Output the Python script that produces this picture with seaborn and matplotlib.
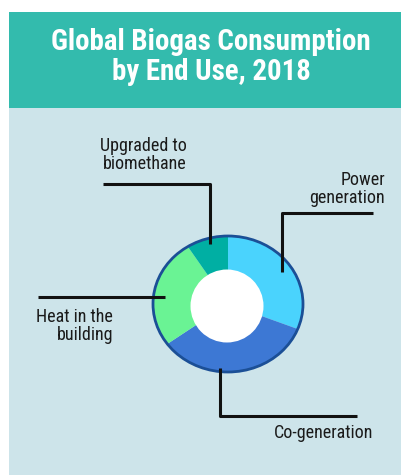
import matplotlib
matplotlib.use("Agg")
import matplotlib.pyplot as plt
from matplotlib.patches import Rectangle, Ellipse
from matplotlib.lines import Line2D
import seaborn as sns

# ---- data ----
categories = ["Power\ngeneration", "Co-generation", "Heat in the\nbuilding", "Upgraded to\nbiomethane"]
shares = [31, 34, 26, 9]
colors = ["#4AD3FD", "#3D78D4", "#6AF394", "#00AFA3"]
title = "Global Biogas Consumption\nby End Use, 2018"

sns.set_theme(style="white")
plt.rcParams['font.family'] = ['Roboto Condensed', 'DejaVu Sans']

W, H = 401, 475
fig = plt.figure(figsize=(W / 100, H / 100), dpi=100)
fig.patch.set_facecolor("white")

def px(x, y):
    """image pixel coords (y from top) -> figure fraction"""
    return x / W, 1 - y / H

# background panels
fig.add_artist(Rectangle(px(9, 108), (W - 9) / W, (108 - 12) / H, transform=fig.transFigure,
                         facecolor="#33BBAD", edgecolor="none", zorder=0))
fig.add_artist(Rectangle(px(9, 475), (W - 9) / W, (475 - 108) / H, transform=fig.transFigure,
                         facecolor="#CDE4EA", edgecolor="none", zorder=0))

fig.text(211 / W, 1 - 57 / H, title, ha="center", va="center", color="white",
         fontsize=20.8, fontweight="bold", linespacing=1.1, zorder=5)

# donut axes: outer ellipse center (228, 304), rx 75, ry 68
cx, cy, rx, ry = 228, 304, 75, 68
aw, ah = 2.5 * rx, 2.5 * ry
l, b = px(cx - aw / 2, cy + ah / 2)
ax = fig.add_axes([l, b, aw / W, ah / H])
ax.pie(shares, colors=colors, startangle=90, counterclock=False,
       wedgeprops=dict(linewidth=0))
ax.set_aspect("auto")
ax.set_xlim(-1.25, 1.25)
ax.set_ylim(-1.25, 1.25)
ax.axis("off")
ax.add_patch(Ellipse((0, 0), 2, 2, facecolor="none", edgecolor="#1B4F96", linewidth=2, zorder=5))
hole_r = 36.5
ax.add_patch(Ellipse((-1 / rx, -2 / ry), 2 * hole_r / rx, 2 * hole_r / ry,
                     facecolor="white", edgecolor="none", zorder=6))

# leader lines (pixel coords)
def line(xs, ys):
    fig.add_artist(Line2D([x / W for x in xs], [1 - y / H for y in ys], transform=fig.transFigure,
                          color="#111111", linewidth=2.2, solid_capstyle="butt", zorder=10))

line([103, 210, 210], [184, 184, 244])          # Upgraded
line([373, 282, 282], [213, 213, 272])          # Power
line([38, 165], [297, 297])                     # Heat
line([220, 220, 357], [368, 416, 416])          # Co-generation

tkw = dict(color="#1a1a1a", fontsize=13, linespacing=1.0, ha="right", va="center", zorder=10)
fig.text(187 / W, 1 - 155 / H, categories[3], **tkw)
fig.text(385 / W, 1 - 189 / H, categories[0], **tkw)
fig.text(113 / W, 1 - 326 / H, categories[2], **tkw)
fig.text(373 / W, 1 - 433 / H, categories[1], **tkw)

fig.savefig("out.png", dpi=100, facecolor=fig.get_facecolor())
